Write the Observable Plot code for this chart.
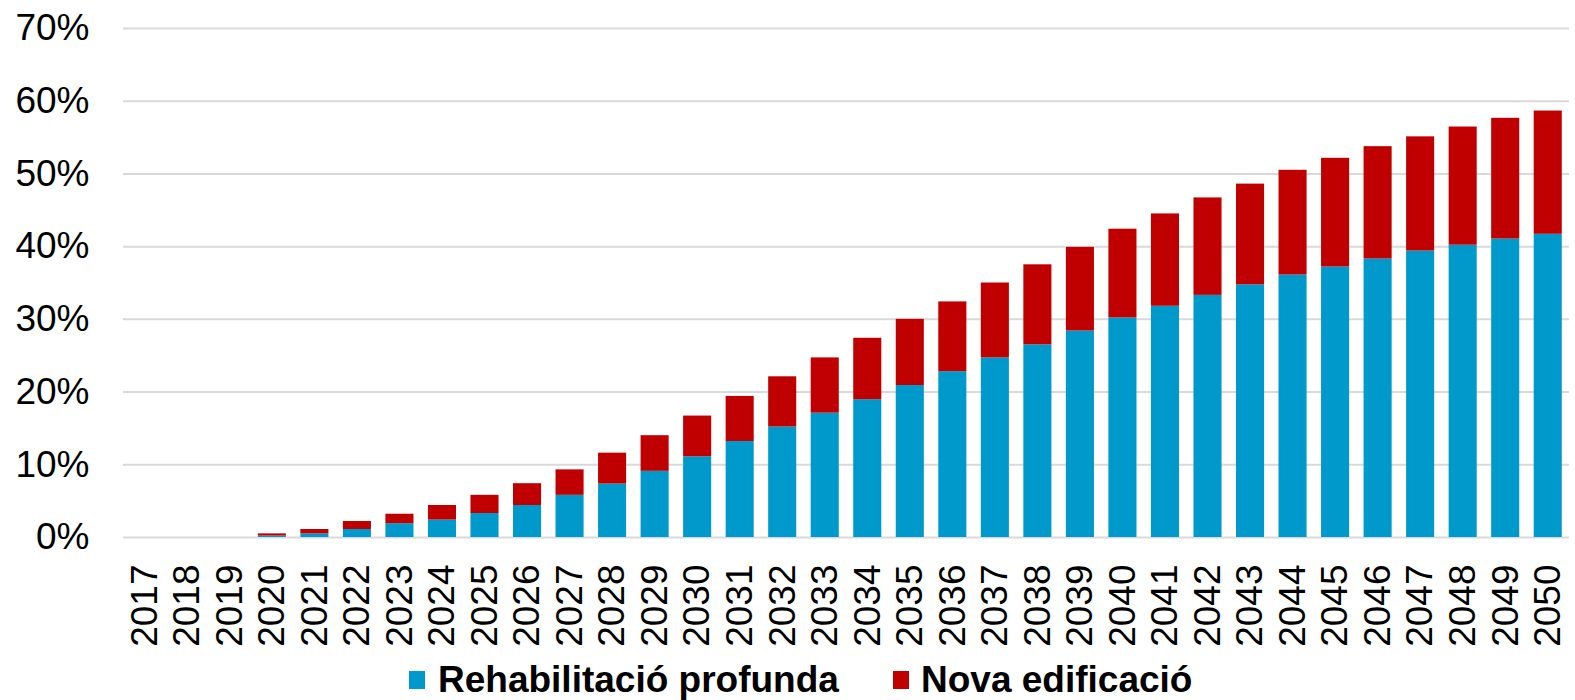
<!DOCTYPE html>
<html>
<head>
<meta charset="utf-8">
<script src="https://cdn.jsdelivr.net/npm/d3@7"></script>
<script src="https://cdn.jsdelivr.net/npm/@observablehq/plot@0.6"></script>
<style>
  html, body { margin: 0; padding: 0; background: #fff; }
  body { width: 1575px; height: 700px; overflow: hidden; font-family: "Liberation Sans", Arial, sans-serif; }
  #chart svg { display: block; }
  #legend { position: relative; height: 50px; }
  .sw { position: absolute; width: 16px; height: 18px; top: 21px; }
  .lt { position: absolute; top: 9px; font-size: 37px; font-weight: bold; color: #000; line-height: 42px; white-space: nowrap; }
</style>
</head>
<body>
<div id="chart"></div>
<div id="legend"></div>
<script>
const years = ["2017","2018","2019","2020","2021","2022","2023","2024","2025","2026","2027","2028","2029","2030","2031","2032","2033","2034","2035","2036","2037","2038","2039","2040","2041","2042","2043","2044","2045","2046","2047","2048","2049","2050"];
const rehabilitacio = [0,0,0,0.2,0.5,1.1,1.9,2.4,3.3,4.4,5.8,7.35,9.1,11.1,13.2,15.2,17.1,18.95,20.9,22.8,24.7,26.5,28.4,30.2,31.8,33.3,34.75,36.1,37.2,38.3,39.4,40.2,41.05,41.7];
const novaEdificacio = [0,0,0,0.3,0.6,1.1,1.3,2.0,2.5,3.0,3.5,4.25,4.9,5.6,6.2,6.9,7.6,8.45,9.1,9.6,10.3,11.0,11.5,12.2,12.7,13.4,13.85,14.4,14.95,15.45,15.7,16.25,16.6,16.95];
const seriesNames = ["Rehabilitació profunda", "Nova edificació"];
const seriesColors = ["#0099cc", "#c00000"];
const yTicks = [0,10,20,30,40,50,60,70];

const rows = [];
years.forEach((y, i) => {
  rows.push({year: y, series: seriesNames[0], value: rehabilitacio[i]});
  rows.push({year: y, series: seriesNames[1], value: novaEdificacio[i]});
});

const chart = Plot.plot({
  width: 1575,
  height: 650,
  marginTop: 28,
  marginBottom: 113,
  marginLeft: 123,
  marginRight: 6,
  style: {fontFamily: '"Liberation Sans", Arial, sans-serif', fontSize: "37px", color: "#000", background: "#fff"},
  x: {domain: years, paddingInner: 0.34, paddingOuter: 0.17, round: false, label: null},
  y: {domain: [0, 70], label: null},
  color: {domain: seriesNames, range: seriesColors},
  marks: [
    Plot.gridY(yTicks, {stroke: "#d9d9d9", strokeOpacity: 1, strokeWidth: 2}),
    Plot.barY(rows, Plot.stackY({x: "year", y: "value", fill: "series", order: seriesNames})),
    Plot.axisY(yTicks, {tickSize: 0, tickPadding: 34, tickFormat: d => d + "%", fontSize: 37, fill: "#000"}),
    Plot.axisX({tickSize: 0, tickPadding: 27, tickRotate: -90, fontSize: 37, fill: "#000"})
  ]
});
document.getElementById("chart").appendChild(chart);

const legend = document.getElementById("legend");
const pos = [[409, 438], [893, 921]];
seriesNames.forEach((name, i) => {
  const sw = document.createElement("div");
  sw.className = "sw";
  sw.style.left = pos[i][0] + "px";
  sw.style.background = seriesColors[i];
  legend.appendChild(sw);
  const t = document.createElement("div");
  t.className = "lt";
  t.style.left = pos[i][1] + "px";
  t.textContent = name;
  legend.appendChild(t);
});
</script>
</body>
</html>
